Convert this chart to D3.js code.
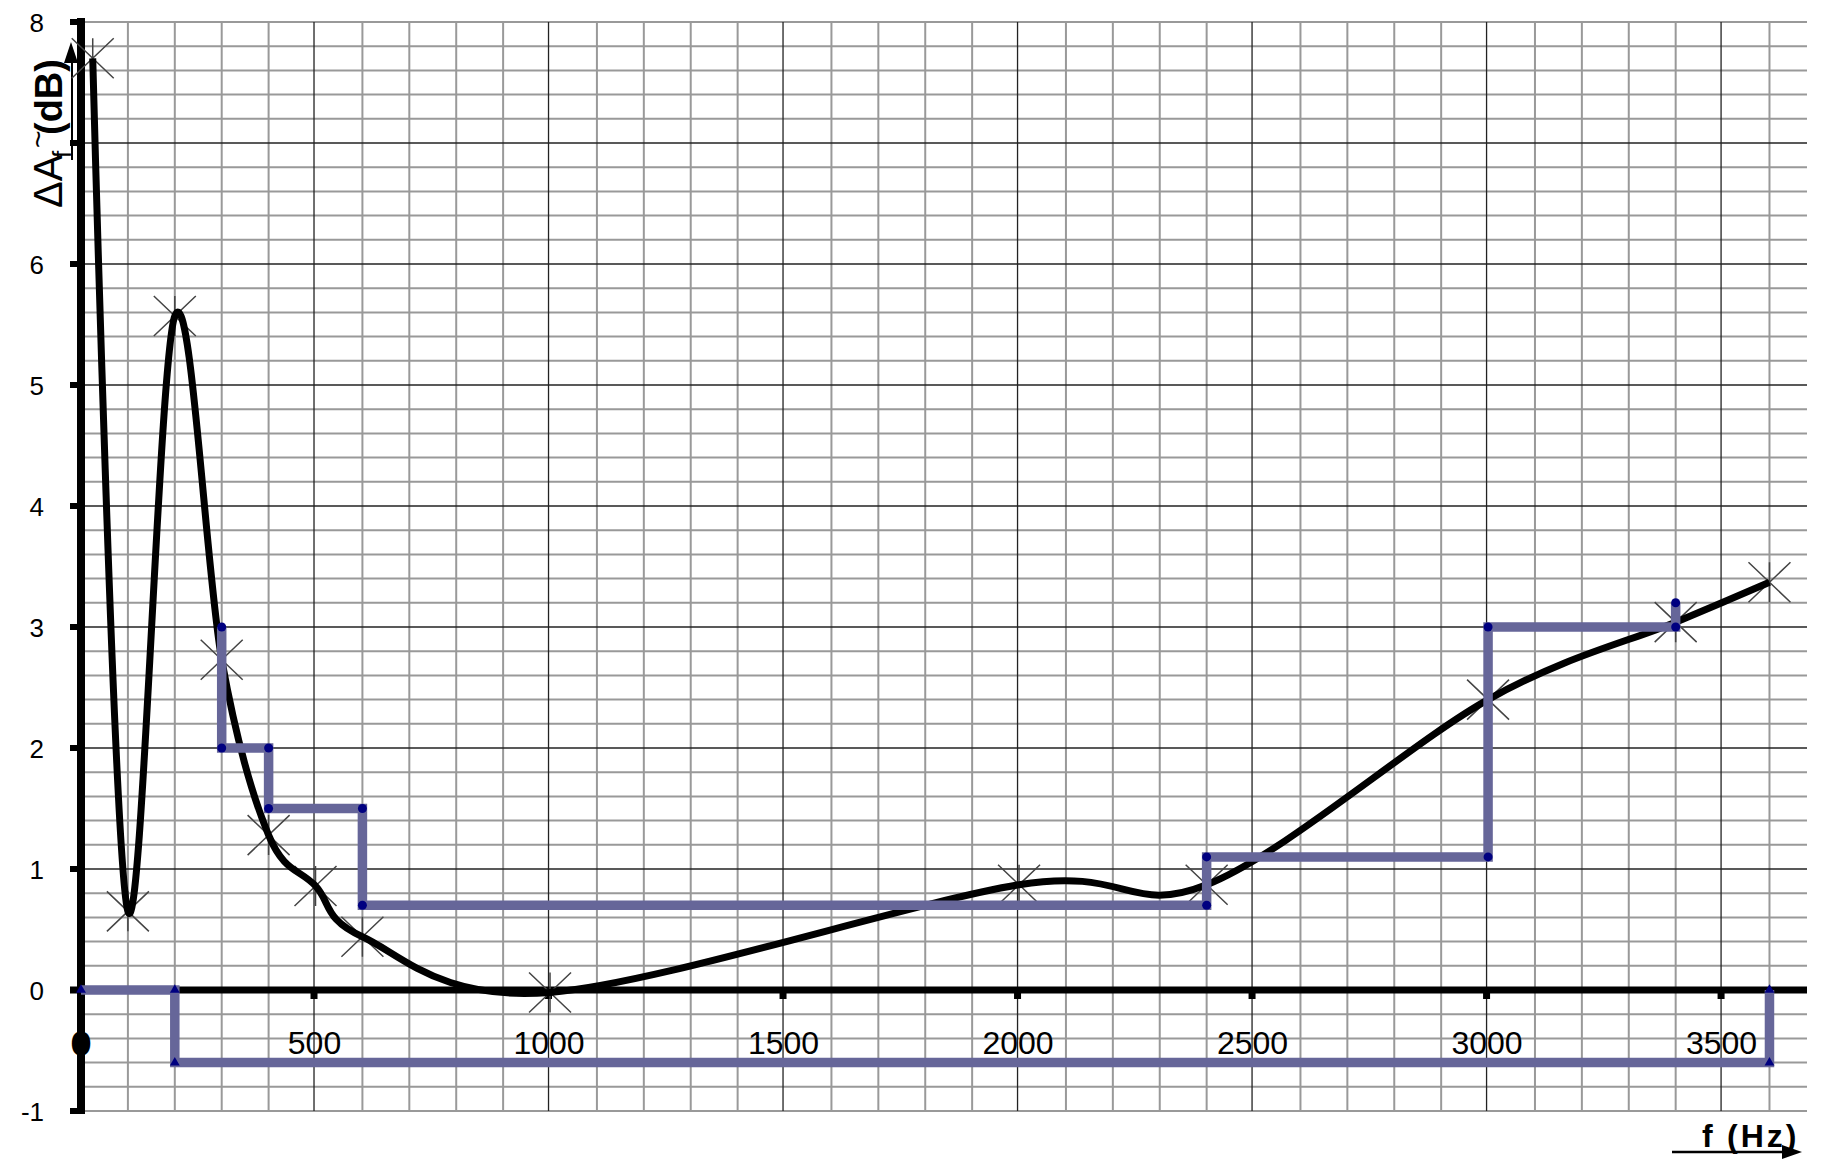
<!DOCTYPE html>
<html>
<head>
<meta charset="utf-8">
<script src="https://cdn.jsdelivr.net/npm/d3@7"></script>
<style>
  html, body { margin: 0; padding: 0; background: #fff; }
  svg { display: block; }
  text { font-family: "Liberation Sans", Arial, sans-serif; }
</style>
</head>
<body>
<div id="chart"></div>
<script>
// ---- data ----
const freq = [25, 100, 200, 300, 400, 500, 600, 1000, 2000, 2400, 3000, 3400, 3600];
const deltaA = [7.7, 0.65, 5.57, 2.73, 1.28, 0.86, 0.44, -0.02, 0.87, 0.87, 2.40, 3.04, 3.37];

const stepUpperF = [300, 300, 400, 400, 600, 600, 2400, 2400, 3000, 3000, 3400, 3400];
const stepUpperV = [3, 2, 2, 1.5, 1.5, 0.7, 0.7, 1.1, 1.1, 3, 3, 3.2];

const stepLowerF = [0, 200, 200, 3600, 3600];
const stepLowerV = [0, 0, -0.6, -0.6, 0];

const xTickValues = [500, 1000, 1500, 2000, 2500, 3000, 3500];
const xTickLabels = ["500", "1000", "1500", "2000", "2500", "3000", "3500"];
const yTickValues = [-1, 0, 1, 2, 3, 4, 5, 6, 7, 8];
const yTickLabels = ["-1", "0", "1", "2", "3", "4", "5", "6", "", "8"];

// ---- layout ----
const W = 1823, H = 1160;
const svg = d3.select("#chart").append("svg").attr("width", W).attr("height", H);

const x = d3.scaleLinear().domain([0, 3680]).range([81, 1807]);
const y = d3.scaleLinear().domain([-1, 8]).range([1111, 22]);

const xMin = x.range()[0], xMax = x.range()[1];
const yTop = y(8), yBot = y(-1);

// ---- grid ----
const grid = svg.append("g");
const minorX = d3.range(100, 3700, 100).filter(v => v % 500 !== 0);
const minorY = d3.range(-5, 41).map(k => k / 5).filter(v => Math.abs(v - Math.round(v)) > 1e-9 || v === -1 || v === 8);
grid.selectAll("line.mx").data(minorX).join("line")
  .attr("x1", d => x(d)).attr("x2", d => x(d)).attr("y1", yTop).attr("y2", yBot)
  .attr("stroke", "#999").attr("stroke-width", 2);
grid.selectAll("line.my").data(minorY).join("line")
  .attr("x1", xMin).attr("x2", xMax).attr("y1", d => y(d)).attr("y2", d => y(d))
  .attr("stroke", "#999").attr("stroke-width", 2);
const majorX = xTickValues;
const majorY = [1, 2, 3, 4, 5, 6, 7];
grid.selectAll("line.MX").data(majorX).join("line")
  .attr("x1", d => x(d) - 1.5).attr("x2", d => x(d) - 1.5).attr("y1", yTop).attr("y2", yBot)
  .attr("stroke", "#222").attr("stroke-width", 1.3);
grid.selectAll("line.MY").data(majorY).join("line")
  .attr("x1", xMin).attr("x2", xMax).attr("y1", d => y(d)).attr("y2", d => y(d))
  .attr("stroke", "#222").attr("stroke-width", 1.3);

// ---- x tick labels (the "0" sits under the y axis) ----
svg.append("g").selectAll("text").data(xTickValues).join("text")
  .attr("x", d => x(d) - 1).attr("y", 1054)
  .attr("text-anchor", "middle").attr("font-size", 32).attr("fill", "#000")
  .text((d, i) => xTickLabels[i]);
svg.append("text").attr("x", x(0)).attr("y", 1053).attr("text-anchor", "middle")
  .attr("font-size", 28).attr("fill", "#000").attr("stroke", "#000").attr("stroke-width", 5)
  .text("0");

// ---- axes ----
const axes = svg.append("g");
axes.append("line").attr("x1", 70).attr("x2", xMax).attr("y1", y(0)).attr("y2", y(0))
  .attr("stroke", "#000").attr("stroke-width", 7);
axes.append("line").attr("x1", x(0)).attr("x2", x(0)).attr("y1", yTop - 4).attr("y2", yBot + 3)
  .attr("stroke", "#000").attr("stroke-width", 8);
axes.selectAll("rect.yt").data(yTickValues).join("rect")
  .attr("x", 70).attr("y", d => y(d) - 3).attr("width", 11).attr("height", 6).attr("fill", "#000");
axes.selectAll("rect.xt").data(xTickValues).join("rect")
  .attr("x", d => x(d) - 5).attr("y", y(0)).attr("width", 7).attr("height", 9).attr("fill", "#000");

// y tick labels
svg.append("g").selectAll("text").data(yTickValues).join("text")
  .attr("x", 44).attr("y", d => y(d) + 9.5)
  .attr("text-anchor", "end").attr("font-size", 26).attr("fill", "#000")
  .text((d, i) => yTickLabels[i]);

// ---- axis titles ----
const yl = svg.append("text").attr("transform", "translate(62,208) rotate(-90)").attr("fill", "#000");
yl.append("tspan").attr("x", 0).attr("y", 0).attr("font-size", 40).text("ΔA");
yl.append("tspan").attr("x", 50).attr("y", 9).attr("font-size", 26).text("f");
yl.append("tspan").attr("x", 60).attr("y", -14).attr("font-size", 30).text("~");
yl.append("tspan").attr("x", 73).attr("y", 0).attr("font-size", 38).attr("font-weight", "bold").text("(dB)");
// arrow alongside the y title
svg.append("line").attr("x1", 72).attr("x2", 72).attr("y1", 160).attr("y2", 58)
  .attr("stroke", "#000").attr("stroke-width", 2);
svg.append("path").attr("d", "M71,42 L64,63 L78,63 Z").attr("fill", "#000");

const xl = svg.append("text").attr("y", 1147).attr("font-size", 32).attr("font-weight", "bold").attr("fill", "#000");
xl.append("tspan").attr("x", 1702).text("f");
xl.append("tspan").attr("x", 1727).attr("letter-spacing", 3).text("(Hz)");
svg.append("line").attr("x1", 1672).attr("x2", 1788).attr("y1", 1152).attr("y2", 1152)
  .attr("stroke", "#000").attr("stroke-width", 2.5);
svg.append("path").attr("d", "M1802,1152 L1782,1145 L1782,1159 Z").attr("fill", "#000");

// ---- star markers of measured points ----
const pts = freq.map((f, i) => [f, deltaA[i]]);
const stars = svg.append("g").attr("stroke", "#444").attr("stroke-width", 1.5).attr("fill", "none");
stars.selectAll("path").data(pts).join("path")
  .attr("d", d => {
    const cx = x(d[0]), cy = y(d[1]), a = 21, b = 20;
    return `M${cx - a},${cy - b}L${cx + a},${cy + b}M${cx - a},${cy + b}L${cx + a},${cy - b}M${cx},${cy - b}L${cx},${cy + b}`;
  });

// ---- smoothed curve ----
const curve = d3.line().x(d => x(d[0])).y(d => y(d[1])).curve(d3.curveCardinal.tension(0));
svg.append("path").attr("d", curve(pts)).attr("fill", "none").attr("stroke", "#000")
  .attr("stroke-width", 7).attr("stroke-linejoin", "round");

// ---- step series ----
const stepLine = d3.line().x(d => x(d[0])).y(d => y(d[1]));
const lower = stepLowerF.map((f, i) => [f, stepLowerV[i]]);
const upper = stepUpperF.map((f, i) => [f, stepUpperV[i]]);
svg.append("path").attr("d", stepLine(lower)).attr("fill", "none").attr("stroke", "#666699")
  .attr("stroke-width", 9.5).attr("stroke-linejoin", "miter").attr("stroke-linecap", "butt");
svg.append("path").attr("d", stepLine(upper)).attr("fill", "none").attr("stroke", "#666699")
  .attr("stroke-width", 9.5).attr("stroke-linejoin", "miter").attr("stroke-linecap", "butt");

svg.append("g").selectAll("circle").data(upper).join("circle")
  .attr("cx", d => x(d[0])).attr("cy", d => y(d[1])).attr("r", 4.5).attr("fill", "#000080");
const tri = d3.symbol().type(d3.symbolTriangle).size(42);
svg.append("g").selectAll("path").data(lower).join("path")
  .attr("transform", d => `translate(${x(d[0])},${y(d[1])})`).attr("d", tri).attr("fill", "#000080");
</script>
</body>
</html>
